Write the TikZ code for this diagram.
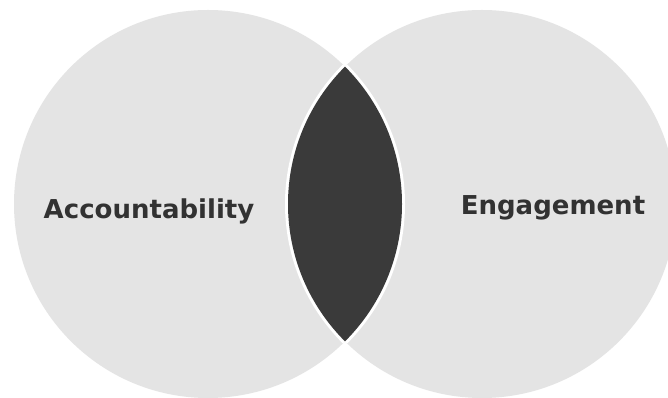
\documentclass[tikz,border=0pt]{standalone}
\usepackage{fontspec}
\setmainfont{DejaVu Sans}
\definecolor{circfill}{RGB}{228,228,228}
\definecolor{lensfill}{RGB}{58,58,58}
\definecolor{txtcol}{RGB}{50,50,50}
\tikzset{
  setcircle/.style={fill=circfill},
  lbl/.style={font=\bfseries\fontsize{26}{30}\selectfont, text=txtcol, anchor=base, inner sep=0pt}
}
\begin{document}
\begin{tikzpicture}[x=1pt,y=1pt]
\useasboundingbox (0,0) rectangle (668,398);
\fill[white] (0,0) rectangle (668,398);
\clip (0,0) rectangle (668,398);
\coordinate (cl) at (208,194);
\coordinate (cr) at (482,194);
\fill[setcircle] (cl) circle (194);
\fill[setcircle] (cr) circle (194);
% white rim around the lens
\begin{scope}
  \clip (cl) circle (194);
  \draw[white, line width=6] (cr) circle (194);
\end{scope}
\begin{scope}
  \clip (cr) circle (194);
  \draw[white, line width=6] (cl) circle (194);
\end{scope}
% dark lens
\begin{scope}
  \clip (cl) circle (194);
  \fill[lensfill] (cr) circle (194);
\end{scope}
\node[lbl] (acc) at (149,179) {Accountability};
\node[lbl] (eng) at (553,183) {Engagement};
\end{tikzpicture}
\end{document}
